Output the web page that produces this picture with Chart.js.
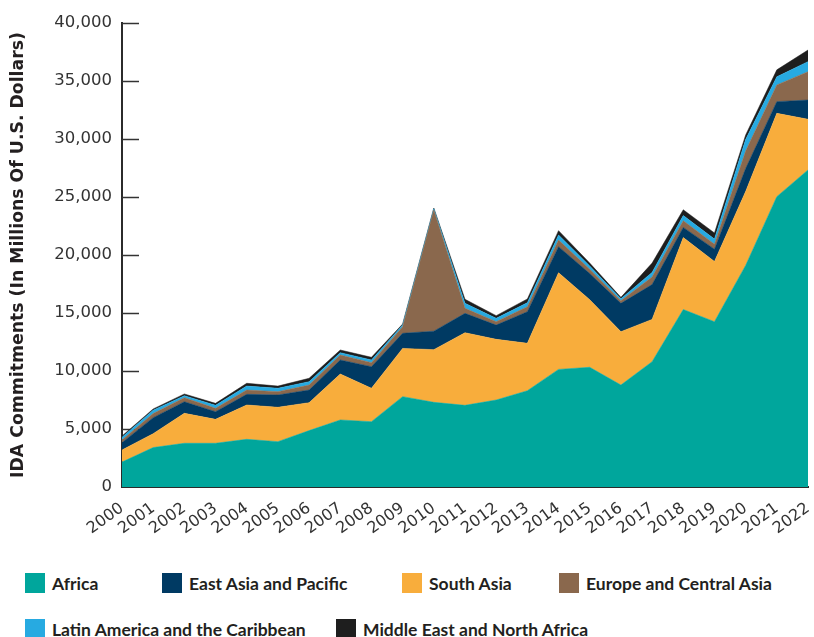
<!DOCTYPE html>
<html>
<head>
<meta charset="utf-8">
<script src="https://cdn.jsdelivr.net/npm/chart.js"></script>
<style>
  html, body { margin: 0; padding: 0; background: #fff; }
  #wrap { position: relative; width: 814px; height: 637px; overflow: hidden; }
  #chart { position: absolute; left: 0; top: 0; }
  .lg-item { position: absolute; display: flex; align-items: center; height: 20px;
    font-family: Lato, sans-serif; font-weight: 700; font-size: 17.5px; color: #231f20; white-space: nowrap; }
  .lg-box { width: 20px; height: 20px; margin-right: 7px; }
</style>
</head>
<body>
<div id="wrap">
  <canvas id="chart" width="814" height="557"></canvas>
  <div id="legend"></div>
</div>
<script>
const years = ['2000','2001','2002','2003','2004','2005','2006','2007','2008','2009','2010',
  '2011','2012','2013','2014','2015','2016','2017','2018','2019','2020','2021','2022'];

// IDA commitments, millions of US$ (stack order: bottom to top)
const africa       = [2150,3400,3770,3770,4110,3910,4860,5780,5630,7790,7300,7040,7500,8300,10140,10320,8790,10800,15300,14250,19100,25030,27330];
const southAsia    = [1040,1200,2580,2060,2960,2960,2410,3960,2880,4160,4540,6260,5230,4090,8330,5830,4600,3650,6200,5190,6370,7180,4370];
const eastAsia     = [630,1380,1000,660,920,1060,1090,1210,1860,1300,1590,1670,1230,2720,2250,2250,2440,3000,880,1060,1980,1010,1660];
const europe       = [230,350,350,290,370,290,430,430,350,570,10450,430,290,430,570,370,230,650,570,430,1510,1440,2440];
const latinAmerica = [230,290,170,260,340,290,290,200,230,140,110,430,290,350,430,290,170,400,450,440,990,700,870];
const middleEast   = [120,110,150,170,240,190,290,230,230,90,60,350,230,320,380,240,120,800,500,530,390,600,1000];

const yTicks = [0,5000,10000,15000,20000,25000,30000,35000,40000];

const series = [
  { label: 'Africa', data: africa, color: '#00a69c' },
  { label: 'South Asia', data: southAsia, color: '#f8ad3c' },
  { label: 'East Asia and Pacific', data: eastAsia, color: '#003a63' },
  { label: 'Europe and Central Asia', data: europe, color: '#8a684d' },
  { label: 'Latin America and the Caribbean', data: latinAmerica, color: '#27aae1' },
  { label: 'Middle East and North Africa', data: middleEast, color: '#1e1e1e' },
];
const legendOrder = ['Africa','East Asia and Pacific','South Asia','Europe and Central Asia',
  'Latin America and the Caribbean','Middle East and North Africa'];
// legend spots (left, top) in px
const legendSpots = [[25,573],[162,573],[402,573],[559,573],[25,619],[336,619]];

// short ticks drawn inside the plot, behind the areas
const insideTicks = {
  id: 'insideTicks',
  beforeDatasetsDraw(chart) {
    const { ctx, chartArea, scales: { y } } = chart;
    ctx.save();
    ctx.strokeStyle = '#333';
    ctx.lineWidth = 1.5;
    y.ticks.forEach(t => {
      if (t.value === 0) return;
      const py = Math.round(y.getPixelForValue(t.value)) + 0.5;
      ctx.beginPath();
      ctx.moveTo(chartArea.left, py);
      ctx.lineTo(chartArea.left + 17, py);
      ctx.stroke();
    });
    ctx.restore();
  }
};

const ctx = document.getElementById('chart').getContext('2d');
new Chart(ctx, {
  type: 'line',
  data: {
    labels: years,
    datasets: series.map((s, i) => ({
      label: s.label,
      data: s.data,
      backgroundColor: s.color,
      borderColor: s.color,
      borderWidth: 0.5,
      pointRadius: 0,
      tension: 0,
      fill: i === 0 ? 'origin' : '-1',
    })),
  },
  options: {
    responsive: false,
    animation: false,
    layout: { padding: { left: 0, right: 6, top: 23, bottom: 0 } },
    plugins: { legend: { display: false }, tooltip: { enabled: false } },
    scales: {
      x: {
        z: 1,
        offset: false,
        grid: { display: false, drawTicks: false },
        border: { display: true, color: '#2b2b2b', width: 2 },
        ticks: {
          autoSkip: false, minRotation: 36, maxRotation: 36, padding: 12,
          color: '#333', font: { family: 'DejaVu Sans', size: 16 },
        },
        afterFit(s) { s.height = 70; s.paddingRight = 0; s.paddingLeft = 0; },
      },
      y: {
        z: 1,
        stacked: true,
        min: 0, max: 40000,
        grid: { display: false, drawTicks: false },
        border: { display: true, color: '#2b2b2b', width: 2 },
        afterBuildTicks(s) { s.ticks = yTicks.map(v => ({ value: v })); },
        ticks: {
          padding: 10, color: '#333', font: { family: 'DejaVu Sans', size: 16.5 },
          callback: v => v.toLocaleString('en-US'),
        },
        title: {
          display: true,
          text: 'IDA Commitments (In Millions Of U.S. Dollars)',
          color: '#231f20',
          font: { family: 'DejaVu Sans', size: 17.3, weight: 'bold' },
          padding: { top: 8, bottom: 0 },
        },
        afterFit(s) { s.width = 122; },
      },
    },
  },
  plugins: [insideTicks],
});

// legend
const legend = document.getElementById('legend');
legendOrder.forEach((name, i) => {
  const s = series.find(d => d.label === name);
  const item = document.createElement('div');
  item.className = 'lg-item';
  item.style.left = legendSpots[i][0] + 'px';
  item.style.top = legendSpots[i][1] + 'px';
  const box = document.createElement('span');
  box.className = 'lg-box';
  box.style.background = s.color;
  item.appendChild(box);
  item.appendChild(document.createTextNode(name));
  legend.appendChild(item);
});
</script>
</body>
</html>
